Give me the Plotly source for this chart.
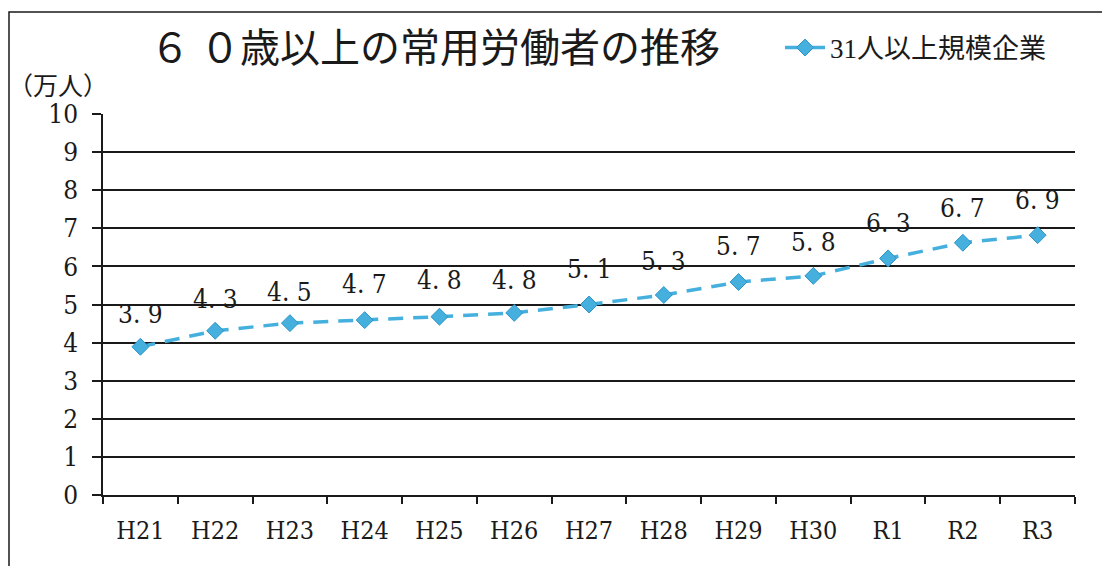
import plotly.graph_objects as go

categories = ["H21", "H22", "H23", "H24", "H25", "H26", "H27", "H28", "H29", "H30", "R1", "R2", "R3"]
values = [3.89, 4.31, 4.51, 4.59, 4.68, 4.78, 5.0, 5.25, 5.59, 5.75, 6.21, 6.62, 6.82]
labels = [3.9, 4.3, 4.5, 4.7, 4.8, 4.8, 5.1, 5.3, 5.7, 5.8, 6.3, 6.7, 6.9]
y_ticks = list(range(0, 11))
series_name = "31人以上規模企業"
title_text = "６ ０歳以上の常用労働者の推移"
y_unit = "（万人）"

SERIF = "'DejaVu Serif Condensed', 'Liberation Serif', serif"
CJK = "'Liberation Serif', 'Noto Sans CJK JP', sans-serif"
INK = "#1a1a1a"
BLUE = "#45B0DE"

fig = go.Figure()
fig.add_trace(go.Scatter(
    x=categories, y=values, name=series_name,
    mode="lines+markers",
    line=dict(color=BLUE, width=3.5, dash="15px,10px"),
    marker=dict(symbol="diamond", size=13, color=BLUE, line=dict(color="#2C93C8", width=1)),
))

annotations = []
for c, lab in zip(categories, labels):
    annotations.append(dict(
        x=c, y=lab, xref="x", yref="y", text=f"{lab:.1f}".replace(".", ". "),
        showarrow=False, yshift=32, font=dict(family=SERIF, size=26, color=INK),
    ))
annotations.append(dict(
    x=(435 - 103) / 972, y=1 + (114 - 48) / 381, xref="paper", yref="paper",
    text=title_text, showarrow=False, yanchor="middle",
    font=dict(family=CJK, size=40, color=INK),
))
annotations.append(dict(
    x=(58 - 103) / 972, y=1 + (114 - 86) / 381, xref="paper", yref="paper",
    text=y_unit, showarrow=False, xanchor="center", yanchor="middle",
    font=dict(family=CJK, size=25, color=INK),
))

fig.update_layout(
    width=1102, height=566,
    margin=dict(l=103, r=27, t=114, b=71),
    paper_bgcolor="white", plot_bgcolor="white",
    showlegend=True,
    legend=dict(
        x=(780 - 103) / 972, y=1 + (114 - 48) / 381, xanchor="left", yanchor="middle",
        font=dict(family=CJK, size=27, color=INK), bgcolor="rgba(0,0,0,0)",
        itemwidth=40,
    ),
    annotations=annotations,
    shapes=[dict(
        type="rect", xref="paper", yref="paper",
        x0=(9 - 103) / 972, x1=(1110 - 103) / 972,
        y0=1 - (580 - 114) / 381, y1=1 + (114 - 12) / 381,
        line=dict(color=INK, width=1.5), layer="below",
    )],
)
fig.update_xaxes(
    type="category", tickson="boundaries", ticks="outside", ticklen=7, tickwidth=1.5,
    tickcolor=INK, showline=True, linecolor=INK, linewidth=1.5, showgrid=False,
    tickfont=dict(family=SERIF, size=25, color=INK), range=[-0.5, 12.5],
    ticklabelstandoff=12,
)
fig.update_yaxes(
    range=[0, 10], tickvals=y_ticks, ticks="outside", ticklen=9, tickwidth=1.5,
    tickcolor=INK, showline=True, linecolor=INK, linewidth=1.5,
    showgrid=True, gridcolor=INK, gridwidth=1.5, zeroline=False,
    tickfont=dict(family=SERIF, size=26, color=INK), ticklabelstandoff=9,
)
fig.write_html("out.html")
